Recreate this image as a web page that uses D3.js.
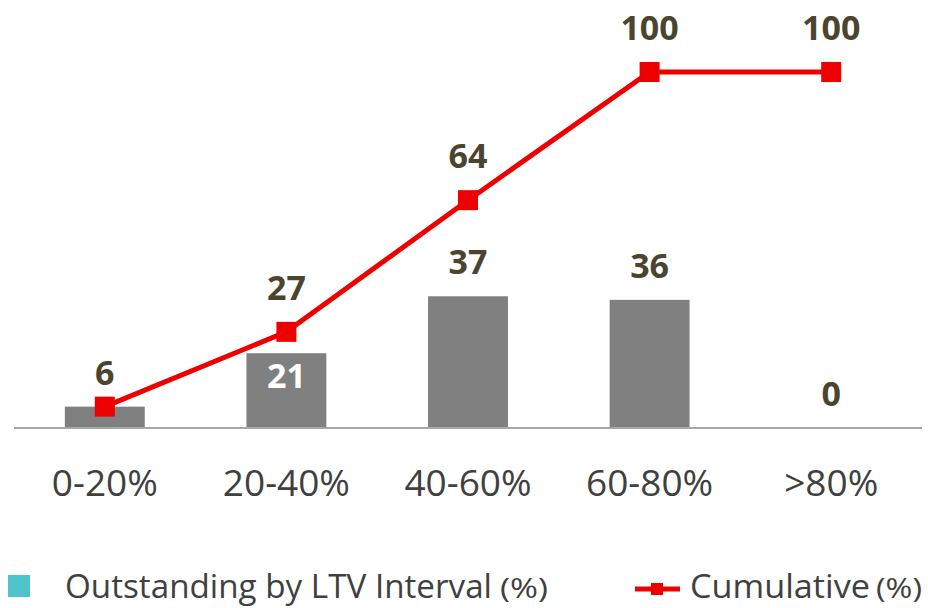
<!DOCTYPE html>
<html><head><meta charset="utf-8">
<script src="https://cdn.jsdelivr.net/npm/d3@7"></script>
<style>body{margin:0;background:#fff}svg{display:block}</style>
</head><body>
<svg id="c" width="928" height="608"></svg>
<script>
const categories = ["0-20%", "20-40%", "40-60%", "60-80%", ">80%"];
const outstanding = [6, 21, 37, 36, 0];
const cumulative = [6, 27, 64, 100, 100];
const legendLabels = ["Outstanding by LTV Interval", "Cumulative"];
const legendUnit = "(%)";

const svg = d3.select("#c");
const x = d3.scaleBand().domain(categories).range([14, 922]).paddingInner(0.56).paddingOuter(0.28);
const y = d3.scaleLinear().domain([0, 100]).range([428, 72]);
const cx = i => x(categories[i]) + x.bandwidth() / 2;
const font = "'Open Sans', 'Noto Sans', sans-serif";
const labelColor = "#4b4530";
const rows = categories.map((c, i) => ({i, c, bar: outstanding[i], cum: cumulative[i]}));

// bars
svg.selectAll("rect.bar").data(rows).join("rect")
  .attr("x", d => x(d.c)).attr("width", x.bandwidth())
  .attr("y", d => y(d.bar)).attr("height", d => y(0) - y(d.bar))
  .attr("fill", "#808080");

// axis
const ax = svg.append("g").attr("transform", `translate(0,${y(0)})`)
  .call(d3.axisBottom(x).tickSize(0).tickPadding(0));
ax.select(".domain").attr("stroke", "#a6a6a6").attr("stroke-width", 2).attr("d", "M14,0H922");
ax.selectAll("text").attr("font-family", font).attr("font-size", 37).attr("fill", "#404040")
  .attr("dy", 0).attr("y", 68);

// line
const line = d3.line().x(d => cx(d.i)).y(d => y(d.cum));
svg.append("path").datum(rows).attr("d", line)
  .attr("fill", "none").attr("stroke", "#ee0000").attr("stroke-width", 5);
svg.selectAll("rect.mk").data(rows).join("rect")
  .attr("x", d => cx(d.i) - 10).attr("y", d => y(d.cum) - 10)
  .attr("width", 20).attr("height", 20).attr("fill", "#ee0000");

// bar labels
const inside = d => { const top = y(d.bar), pt = y(d.cum); return pt < top && top - pt < 40; };
svg.selectAll("text.bl").data(rows).join("text")
  .attr("x", d => cx(d.i))
  .attr("y", d => inside(d) ? y(d.bar) + 35 : y(d.bar) - 22)
  .attr("fill", d => inside(d) ? "#ffffff" : labelColor)
  .attr("text-anchor", "middle").attr("font-family", font).attr("font-weight", 700).attr("font-size", 34)
  .text(d => d.bar);

// line labels (skip where identical to bar label at the same spot)
svg.selectAll("text.ll").data(rows.filter(d => d.cum !== d.bar)).join("text")
  .attr("x", d => cx(d.i))
  .attr("y", d => y(d.cum) - 32)
  .attr("text-anchor", "middle").attr("font-family", font).attr("font-weight", 700).attr("font-size", 34)
  .attr("fill", labelColor).text(d => d.cum);

// legend
const lg = svg.append("g");
lg.append("rect").attr("x", 8).attr("y", 575).attr("width", 22).attr("height", 22).attr("fill", "#4fc5cb");
lg.append("text").attr("x", 65).attr("y", 598).attr("font-family", font).attr("font-size", 33)
  .attr("fill", "#404040").attr("textLength", 427).attr("lengthAdjust", "spacingAndGlyphs").text(legendLabels[0]);
lg.append("text").attr("x", 500).attr("y", 598).attr("font-family", font).attr("font-size", 28)
  .attr("fill", "#404040").attr("textLength", 48).attr("lengthAdjust", "spacingAndGlyphs").text(legendUnit);
lg.append("line").attr("x1", 635).attr("x2", 680).attr("y1", 589).attr("y2", 589)
  .attr("stroke", "#ee0000").attr("stroke-width", 5);
lg.append("rect").attr("x", 651).attr("y", 583).attr("width", 12).attr("height", 12).attr("fill", "#ee0000");
lg.append("text").attr("x", 690).attr("y", 598).attr("font-family", font).attr("font-size", 33)
  .attr("fill", "#404040").attr("textLength", 180).attr("lengthAdjust", "spacingAndGlyphs").text(legendLabels[1]);
lg.append("text").attr("x", 876).attr("y", 598).attr("font-family", font).attr("font-size", 28)
  .attr("fill", "#404040").attr("textLength", 46).attr("lengthAdjust", "spacingAndGlyphs").text(legendUnit);
</script>
</body></html>
